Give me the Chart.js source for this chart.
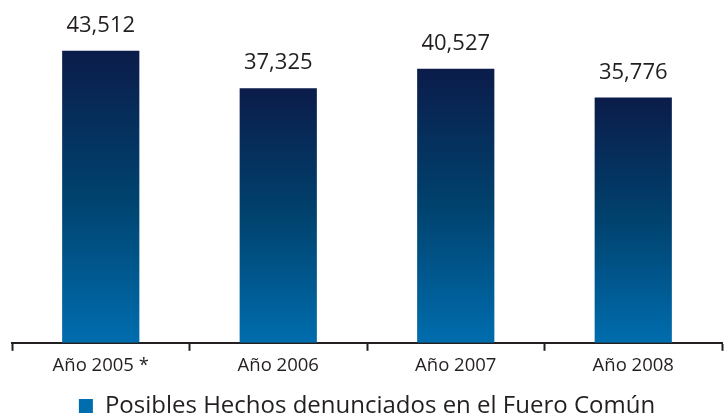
<!DOCTYPE html>
<html>
<head>
<meta charset="utf-8">
<script src="https://cdn.jsdelivr.net/npm/chart.js@4.4.0/dist/chart.umd.min.js"></script>
<style>
  html, body { margin: 0; padding: 0; background: #ffffff; }
  #wrap { width: 727px; height: 420px; }
</style>
</head>
<body>
<div id="wrap"><canvas id="c" width="727" height="420"></canvas></div>
<script>
const categories = ["Año 2005 *", "Año 2006", "Año 2007", "Año 2008"];
const seriesName = "Posibles Hechos denunciados en el Fuero Común";
const values = [43512, 37325, 40527, 35776];
const yMin = -4600;
const yMax = 50700;

const topColor = "#0b1c4a";
const midColor = "#00426e";
const bottomColor = "#006dae";
const textColor = "#231f20";

function barGradient(ctx) {
  const chart = ctx.chart;
  if (!chart.chartArea || ctx.raw === undefined) return midColor;
  const yScale = chart.scales.y;
  const top = yScale.getPixelForValue(ctx.raw);
  const base = yScale.getPixelForValue(yMin);
  const g = chart.ctx.createLinearGradient(0, top, 0, base);
  g.addColorStop(0, topColor);
  g.addColorStop(0.5, midColor);
  g.addColorStop(1, bottomColor);
  return g;
}

const valueLabels = {
  id: 'valueLabels',
  afterDatasetsDraw(chart) {
    const ctx = chart.ctx;
    const meta = chart.getDatasetMeta(0);
    ctx.save();
    ctx.font = '22px "Open Sans"';
    ctx.fillStyle = textColor;
    ctx.textAlign = 'center';
    ctx.textBaseline = 'alphabetic';
    meta.data.forEach((bar, i) => {
      ctx.fillText(values[i].toLocaleString('en-US'), bar.x, bar.y - 19);
    });
    ctx.restore();
  }
};

const legendGradient = {
  id: 'legendGradient',
  afterLayout(chart) {
    const lg = chart.legend;
    if (!lg || !lg.legendHitBoxes || !lg.legendHitBoxes.length || !lg.legendItems) return;
    const hb = lg.legendHitBoxes[0];
    const cy = hb.top + hb.height / 2;
    const g = chart.ctx.createLinearGradient(0, cy - 7, 0, cy + 7);
    g.addColorStop(0, topColor);
    g.addColorStop(1, bottomColor);
    lg.legendItems[0].fillStyle = g;
  }
};

new Chart(document.getElementById('c'), {
  type: 'bar',
  data: {
    labels: categories,
    datasets: [{
      label: seriesName,
      data: values,
      base: yMin,
      backgroundColor: barGradient,
      borderWidth: 0,
      categoryPercentage: 1.0,
      barPercentage: 0.435
    }]
  },
  options: {
    responsive: false,
    animation: false,
    layout: { padding: { top: 7, left: 12, right: 5, bottom: -8 } },
    plugins: {
      tooltip: { enabled: false },
      legend: {
        position: 'bottom',
        labels: {
          font: { family: '"Open Sans"', size: 24 },
          color: textColor,
          boxWidth: 14,
          boxHeight: 14,
          padding: 4
        }
      }
    },
    scales: {
      y: {
        display: false,
        min: yMin,
        max: yMax
      },
      x: {
        grid: {
          display: true,
          drawOnChartArea: false,
          drawTicks: true,
          tickLength: 8,
          tickWidth: 2,
          tickColor: textColor,
          offset: true
        },
        border: { display: true, color: textColor, width: 2 },
        ticks: {
          font: { family: '"Open Sans"', size: 18.5 },
          color: textColor,
          padding: 4
        },
        title: {
          display: true,
          text: ' ',
          color: 'rgba(0,0,0,0)',
          font: { size: 9, lineHeight: 1 },
          padding: 0
        }
      }
    }
  },
  plugins: [valueLabels, legendGradient]
});
</script>
</body>
</html>
